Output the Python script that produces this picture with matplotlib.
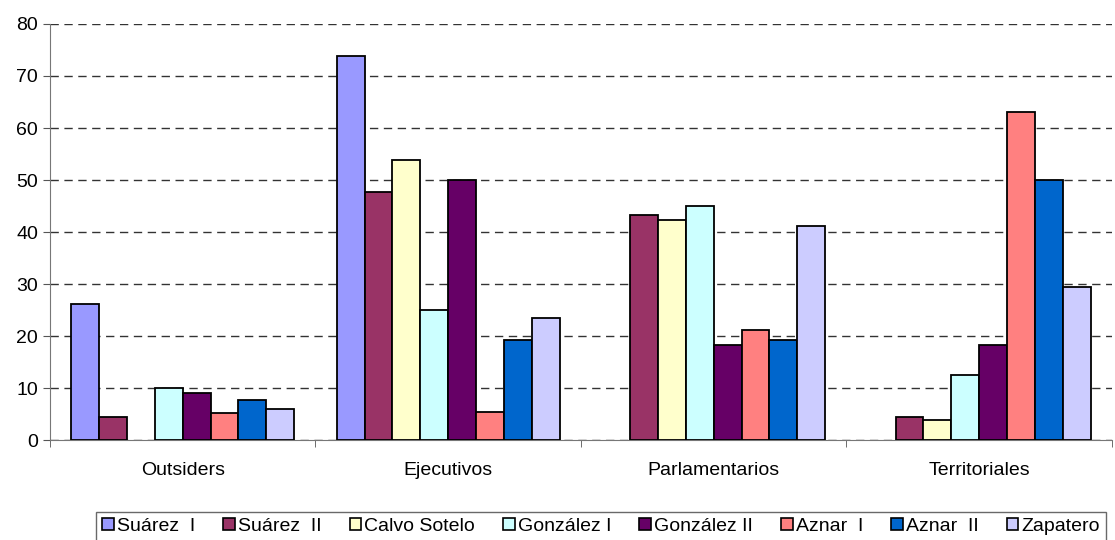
# Bar chart: share of ministers by background, per government
import numpy as np
import matplotlib.pyplot as plt
from matplotlib.patches import Patch

plt.rcParams['font.family'] = ['Liberation Sans', 'DejaVu Sans']

categories = ["Outsiders", "Ejecutivos", "Parlamentarios", "Territoriales"]
series_names = ["Suárez  I", "Suárez  II", "Calvo Sotelo", "González I",
                "González II", "Aznar  I", "Aznar  II", "Zapatero"]

suarez_1 = [26.2, 73.8, 0, 0]
suarez_2 = [4.5, 47.7, 43.3, 4.4]
calvo_sotelo = [0, 53.8, 42.3, 3.8]
gonzalez_1 = [10.0, 25.0, 45.0, 12.5]
gonzalez_2 = [9.1, 50.0, 18.3, 18.3]
aznar_1 = [5.3, 5.4, 21.2, 63.1]
aznar_2 = [7.7, 19.2, 19.2, 50.0]
zapatero = [5.9, 23.5, 41.2, 29.4]

values = [suarez_1, suarez_2, calvo_sotelo, gonzalez_1,
          gonzalez_2, aznar_1, aznar_2, zapatero]
colors = ["#9999ff", "#993366", "#ffffcc", "#ccffff",
          "#660066", "#ff8080", "#0066cc", "#ccccff"]

fig = plt.figure(figsize=(11.15, 5.4), dpi=100)
ax = fig.add_axes([0.0448, 0.185, 0.9525, 0.7706])

x = np.arange(len(categories))
n = len(values)
w = 0.105
for i, (vals, c) in enumerate(zip(values, colors)):
    offs = (i - (n - 1) / 2) * w
    # zero-height bars get no outline on the axis
    lw = [1.3 if v > 0 else 0 for v in vals]
    ax.bar(x + offs, vals, width=w, color=c, edgecolor="black",
           linewidth=lw, zorder=3)

ax.set_xlim(-0.5, len(categories) - 0.5)
ax.set_ylim(0, 80)
ax.set_yticks(range(0, 81, 10))
ax.set_xticks(x)
ax.set_xticklabels(categories, fontsize=14)
ax.set_xticks(np.arange(-0.5, len(categories), 1), minor=True)
ax.tick_params(axis="x", which="major", length=0, pad=16)
ax.tick_params(axis="x", which="minor", length=5, color="#555555")
ax.tick_params(axis="y", labelsize=14, length=5, color="#555555")

ax.yaxis.grid(True, linestyle=(0, (6, 4)), color="#333333", linewidth=1, zorder=0)
for side in ["top", "right"]:
    ax.spines[side].set_visible(False)
ax.spines["left"].set_color("#777777")
ax.spines["bottom"].set_color("#777777")

handles = [Patch(facecolor=c, edgecolor="black", linewidth=1.2) for c in colors]
leg = fig.legend(handles, series_names, loc="lower center",
                 bbox_to_anchor=(0.539, -0.012), ncol=8,
                 fontsize=14, frameon=True, fancybox=False, edgecolor="#444444",
                 handlelength=0.6, handleheight=0.6, handletextpad=0.15,
                 columnspacing=1.45, borderpad=0.3, borderaxespad=0.3)
leg.get_frame().set_linewidth(1)

fig.savefig("out.png", dpi=100)
